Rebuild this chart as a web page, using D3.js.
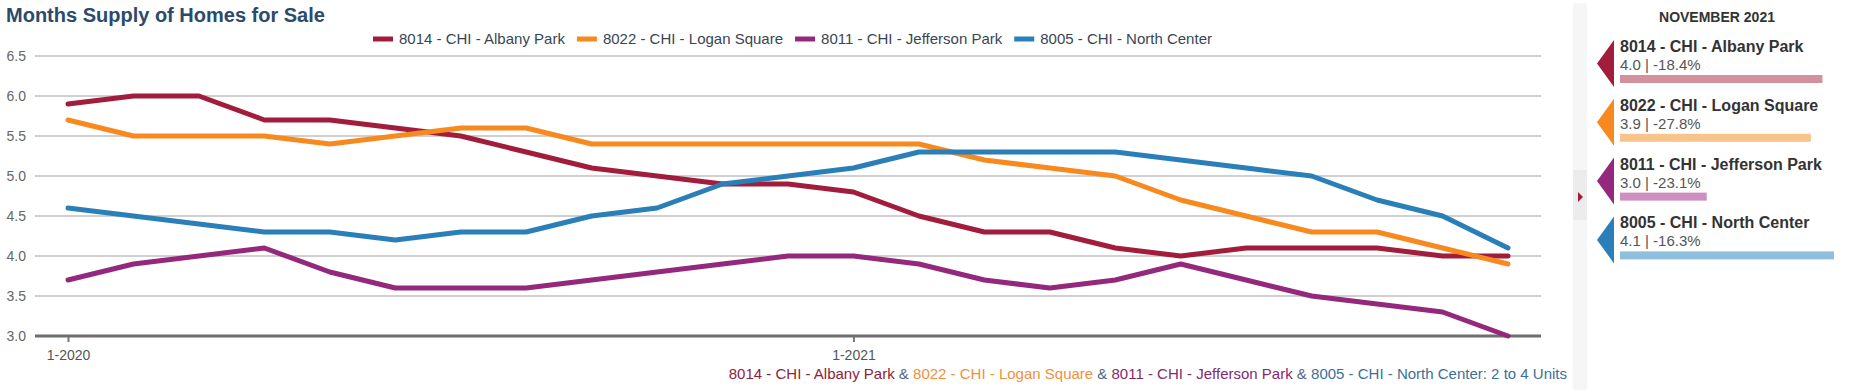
<!DOCTYPE html>
<html><head><meta charset="utf-8">
<script src="https://cdn.jsdelivr.net/npm/d3@7"></script>
<style>
html,body{margin:0;padding:0;background:#fff;}
svg{display:block;font-family:"Liberation Sans",Arial,sans-serif;}
</style></head>
<body>
<svg id="chart" width="1849" height="390"></svg>
<script>
const months = ["1-2020","2-2020","3-2020","4-2020","5-2020","6-2020","7-2020","8-2020","9-2020","10-2020","11-2020","12-2020",
  "1-2021","2-2021","3-2021","4-2021","5-2021","6-2021","7-2021","8-2021","9-2021","10-2021","11-2021"];
const seriesNames = ["8014 - CHI - Albany Park","8022 - CHI - Logan Square","8011 - CHI - Jefferson Park","8005 - CHI - North Center"];
const albanyPark    = [5.9,6.0,6.0,5.7,5.7,5.6,5.5,5.3,5.1,5.0,4.9,4.9,4.8,4.5,4.3,4.3,4.1,4.0,4.1,4.1,4.1,4.0,4.0];
const loganSquare   = [5.7,5.5,5.5,5.5,5.4,5.5,5.6,5.6,5.4,5.4,5.4,5.4,5.4,5.4,5.2,5.1,5.0,4.7,4.5,4.3,4.3,4.1,3.9];
const jeffersonPark = [3.7,3.9,4.0,4.1,3.8,3.6,3.6,3.6,3.7,3.8,3.9,4.0,4.0,3.9,3.7,3.6,3.7,3.9,3.7,3.5,3.4,3.3,3.0];
const northCenter   = [4.6,4.5,4.4,4.3,4.3,4.2,4.3,4.3,4.5,4.6,4.9,5.0,5.1,5.3,5.3,5.3,5.3,5.2,5.1,5.0,4.7,4.5,4.1];
const yTicks = [3.0,3.5,4.0,4.5,5.0,5.5,6.0,6.5];
const xTickLabels = ["1-2020","1-2021"];
const panelTitle = "NOVEMBER 2021";
const changeLabels = ["-18.4%","-27.8%","-23.1%","-16.3%"];
const footerSuffix = ": 2 to 4 Units";
const colors = ["#a11d3b","#f7891f","#93287c","#2b7fb8"];
const footerColors = ["#8e2239","#f0913f","#85296f","#3d6f9a"];
const lightColors = ["#d4909c","#f9c48b","#cc8fbf","#8ebfdd"];

const allSeries = [albanyPark, loganSquare, jeffersonPark, northCenter];
const svg = d3.select("#chart");
const font = "'Liberation Sans', Arial, sans-serif";

const x = d3.scaleLinear().domain([0, months.length - 1]).range([68, 1508]);
const y = d3.scaleLinear().domain([3.0, 6.5]).range([336, 56]);
const gridX0 = 35, gridX1 = 1541;

// title
svg.append("text").attr("x", 6).attr("y", 22).attr("font-size", 20).attr("font-weight", "bold")
  .attr("fill", "#2c4a6b").text("Months Supply of Homes for Sale");

// gridlines
svg.append("g").selectAll("line").data(yTicks.filter(d => d > 3.0)).join("line")
  .attr("x1", gridX0).attr("x2", gridX1).attr("y1", d => y(d)).attr("y2", d => y(d))
  .attr("stroke", "#d0d0d0").attr("stroke-width", 2);

// y axis labels
const yAxis = d3.axisLeft(y).tickValues(yTicks).tickFormat(d3.format(".1f")).tickSize(0).tickPadding(0);
const yg = svg.append("g").attr("transform", "translate(26,0)").call(yAxis);
yg.select(".domain").remove();
yg.selectAll("text").attr("font-size", 14).attr("fill", "#666").attr("font-family", font).attr("dy", "0.35em");

// x axis
const tickIdx = months.map((m, i) => i).filter(i => xTickLabels.includes(months[i]));
const xAxis = d3.axisBottom(x).tickValues(tickIdx).tickFormat(i => months[i]).tickSize(6).tickPadding(8);
const xg = svg.append("g").attr("transform", `translate(0,${y(3.0)})`).call(xAxis);
xg.select(".domain").remove();
xg.selectAll(".tick line").attr("stroke", "#777").attr("stroke-width", 2);
xg.selectAll("text").attr("font-size", 14).attr("fill", "#555").attr("font-family", font);
svg.append("line").attr("x1", gridX0).attr("x2", gridX1).attr("y1", y(3.0)).attr("y2", y(3.0))
  .attr("stroke", "#6e6e6e").attr("stroke-width", 3);

// lines
const line = d3.line().x((d, i) => x(i)).y(d => y(d));
svg.append("g").selectAll("path").data(allSeries).join("path")
  .attr("d", line).attr("fill", "none").attr("stroke", (d, i) => colors[i])
  .attr("stroke-width", 5).attr("stroke-linejoin", "round").attr("stroke-linecap", "round");

// legend
const legend = svg.append("g").attr("font-size", 15);
let lx = 373;
seriesNames.forEach((name, i) => {
  legend.append("line").attr("x1", lx).attr("x2", lx + 20).attr("y1", 39).attr("y2", 39)
    .attr("stroke", colors[i]).attr("stroke-width", 5);
  const t = legend.append("text").attr("x", lx + 26).attr("y", 44).attr("fill", "#3a4553").text(name);
  lx = lx + 26 + t.node().getComputedTextLength() + 12;
});

// footer
const footer = svg.append("text").attr("x", 1567).attr("y", 379).attr("text-anchor", "end").attr("font-size", 15);
seriesNames.forEach((name, i) => {
  if (i > 0) footer.append("tspan").attr("fill", "#4f6b8a").text(" & ");
  footer.append("tspan").attr("fill", footerColors[i]).text(name);
});
footer.append("tspan").attr("fill", footerColors[3]).text(footerSuffix);

// side strip
svg.append("rect").attr("x", 1573).attr("y", 3).attr("width", 14).attr("height", 387).attr("fill", "#f6f6f6");
svg.append("rect").attr("x", 1573).attr("y", 170).attr("width", 14).attr("height", 50).attr("fill", "#ececec");
svg.append("path").attr("d", "M1578,192 L1583,197 L1578,202 Z").attr("fill", "#a11d3b");

// side panel
svg.append("text").attr("x", 1717).attr("y", 22).attr("text-anchor", "middle").attr("font-size", 14)
  .attr("font-weight", "bold").attr("fill", "#333").text(panelTitle);
const barScale = d3.scaleLinear().domain([2.25, 4.1]).range([0, 214]);
const last = allSeries.map(s => s[s.length - 1]);
seriesNames.forEach((name, i) => {
  const top = 40 + 58.8 * i;
  const g = svg.append("g");
  g.append("path").attr("d", `M1614,${top} L1614,${top + 47} L1597,${top + 23.5} Z`).attr("fill", colors[i]);
  g.append("text").attr("x", 1620).attr("y", top + 12).attr("font-size", 16).attr("font-weight", "bold")
    .attr("fill", "#333").text(name);
  g.append("text").attr("x", 1620).attr("y", top + 30).attr("font-size", 15).attr("fill", "#555")
    .text(`${d3.format(".1f")(last[i])} | ${changeLabels[i]}`);
  g.append("rect").attr("x", 1620).attr("y", top + 35).attr("width", barScale(last[i])).attr("height", 8)
    .attr("fill", lightColors[i]);
});
</script>
</body></html>
